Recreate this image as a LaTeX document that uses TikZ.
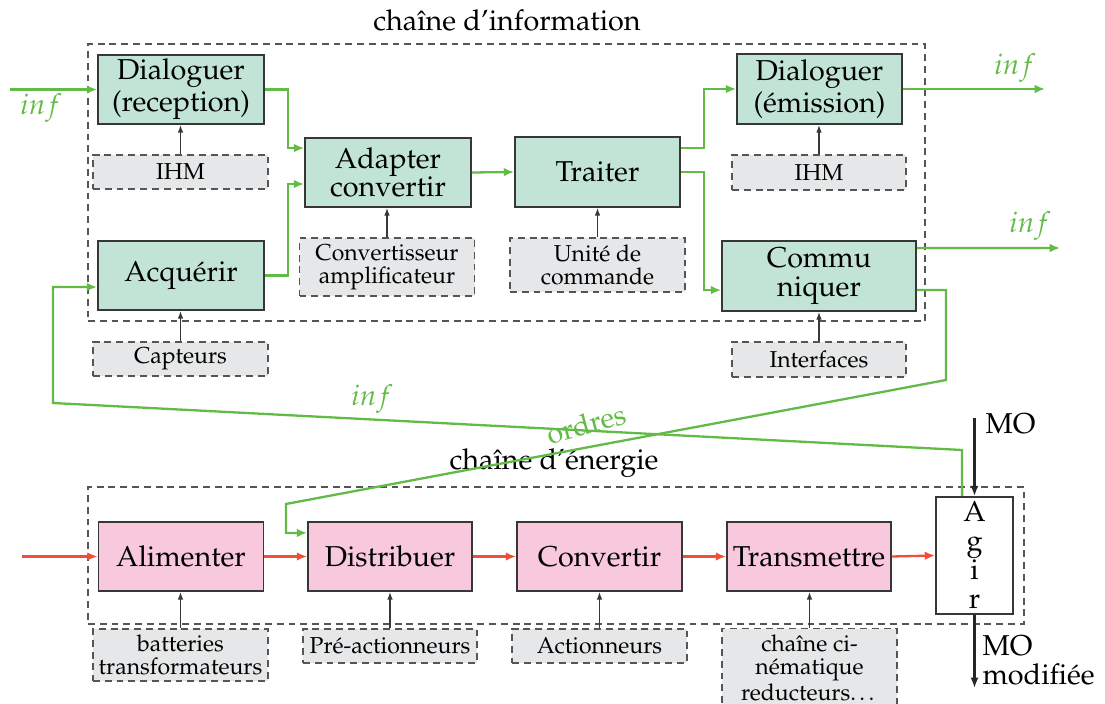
\documentclass[tikz,border=0pt]{standalone}
\usepackage[T1]{fontenc}
\usepackage{mathpazo}
\usetikzlibrary{arrows.meta,calc}
\definecolor{gfill}{RGB}{194,228,214}
\definecolor{pfill}{RGB}{248,200,220}
\definecolor{hfill}{RGB}{230,231,232}
\definecolor{gcol}{RGB}{98,187,70}
\definecolor{rcol}{RGB}{240,78,55}
\definecolor{bcol}{RGB}{55,55,55}
\definecolor{dcol}{RGB}{85,85,85}
\begin{document}
\begin{tikzpicture}[x=0.3476pt,y=-0.3476pt,
  sz/.style 2 args={minimum width=#1*0.3476pt,minimum height=#2*0.3476pt},
  fbox/.style={draw=bcol,line width=0.6pt,inner sep=1pt,align=center,font=\fontsize{10}{10}\selectfont},
  gbox/.style={fbox,fill=gfill},
  pbox/.style={fbox,fill=pfill},
  hbox/.style={draw=dcol,line width=0.5pt,dash pattern=on 2.4pt off 1.7pt,fill=hfill,inner sep=1pt,align=center,font=\fontsize{8}{8}\selectfont},
  cont/.style={draw=dcol,line width=0.5pt,dash pattern=on 2.4pt off 1.7pt,inner sep=0pt},
  gline/.style={draw=gcol,line width=0.8pt,-{Latex[length=3.6pt,width=3pt]}},
  rline/.style={draw=rcol,line width=0.8pt,-{Latex[length=3.6pt,width=3pt]}},
  karrow/.style={draw=bcol,line width=0.55pt,-{Latex[length=2.7pt,width=2pt]}},
  barrow/.style={draw=black!85,line width=0.7pt,-{Latex[length=3.6pt,width=2.8pt]}},
  glab/.style={text=gcol,font=\fontsize{10}{10}\selectfont,inner sep=0pt},
  tlab/.style={font=\fontsize{10}{10}\selectfont,inner sep=0pt}]
\useasboundingbox (0,0) rectangle (1105,704);

% containers and titles
\node[cont,sz={837}{277}] (info) at (506.5,182.5) {};
\node[cont,sz={936}{137}] (ener) at (556,555.5) {};
\node[tlab] (t1) at (507,20) {cha\^ine d'information};
\node[tlab] (t2) at (554,463) {cha\^ine d'\'energie};

% information chain
\node[gbox,sz={166}{69}] (dr) at (181,89.5) {Dialoguer\\(reception)};
\node[hbox,sz={175}{34}] (ihm1) at (180.5,172) {IHM};
\node[gbox,sz={166}{69}] (acq) at (181,275.5) {Acqu\'erir};
\node[hbox,sz={175}{34}] (capt) at (180.5,359) {Capteurs};
\node[gbox,sz={166}{69}] (adapt) at (388,172.5) {Adapter\\convertir};
\node[hbox,sz={175}{58}] (conv) at (387,267) {Convertisseur\\amplificateur};
\node[gbox,sz={165}{70}] (trait) at (597.5,172) {Traiter};
\node[hbox,sz={175}{54}] (unite) at (597.5,265) {Unit\'e de\\commande};
\node[gbox,sz={165}{70}] (de) at (819.5,89) {Dialoguer\\(\'emission)};
\node[hbox,sz={174}{35}] (ihm2) at (819,172.5) {IHM};
\node[gbox,sz={194}{70}] (comm) at (819,276) {Commu\\niquer};
\node[hbox,sz={174}{35}] (interf) at (819,359.5) {Interfaces};

% energy chain
\node[pbox,sz={165}{69}] (alim) at (181,556.5) {Alimenter};
\node[pbox,sz={164}{69}] (distr) at (390,556.5) {Distribuer};
\node[pbox,sz={165}{69}] (conve) at (599.5,556.5) {Convertir};
\node[pbox,sz={164}{69}] (trans) at (809,556.5) {Transmettre};
\node[fbox,fill=white,sz={77}{117}] (agir) at (974.5,555.5) {};
\node[tlab,align=center] (agirtxt) at (974.5,555) {A\\g\\i\\r};
\node[hbox,sz={175}{52}] (batt) at (180.5,655) {batteries\\transformateurs};
\node[hbox,sz={174}{34}] (preact) at (390,646) {Pr\'e-actionneurs};
\node[hbox,sz={175}{34}] (act) at (599.5,646) {Actionneurs};
\node[hbox,sz={175}{78},anchor=north] (cine) at (809.5,628) {cha\^ine ci-\\n\'ematique\\reducteurs\dots};

% support arrows
\foreach \s/\t in {ihm1/dr,capt/acq,conv/adapt,unite/trait,ihm2/de,interf/comm,batt/alim,preact/distr,act/conve,cine/trans}
  \draw[karrow] (\s.north) -- (\s.north |- \t.south);

% information flow
\coordinate (inA) at (10,89.5);
\coordinate (outA) at (1045,89);
\coordinate (outB) at (1060,248);
\draw[gline] (inA) -- (dr.west);
\draw[gline] (dr.east) -- ++(23,0) |- ([yshift=8.5pt]adapt.west);
\draw[gline] (acq.east) -- ++(23,0) |- ([yshift=-4pt]adapt.west);
\draw[gline] (adapt.east) -- (trait.west);
\draw[gline] ([yshift=8.3pt]trait.east) -- ++(23,0) |- (de.west);
\draw[gline] (trait.east) -- ++(23,0) |- ([yshift=-4.9pt]comm.west);
\draw[gline] (de.east) -- (outA);
\draw[gline] ([yshift=9.7pt]comm.east) -- (outB);
\node[glab] (l1) at (41,108) {$inf$};
\node[glab] (l2) at (1015,68) {$inf$};
\node[glab] (l3) at (1030,226) {$inf$};

% orders to distribuer
\coordinate (o1) at (946,380);
\coordinate (o2) at (286,504);
\draw[gline] ([yshift=-4.9pt]comm.east) -| (o1) -- (o2) |- ([yshift=8.2pt]distr.west);
\node[glab,rotate=15] (l4) at (586,424) {ordres};

% feedback information
\coordinate (f1) at (962,450);
\coordinate (f2) at (53,403);
\draw[gline] ([xshift=-4.3pt]agir.north) -- (f1) -- (f2) |- ([yshift=-4pt]acq.west);
\node[glab] (l5) at (372,399) {$inf$};

% energy flow
\coordinate (inE) at (22,556.5);
\draw[rline] (inE) -- (alim.west);
\draw[rline] (alim.east) -- (distr.west);
\draw[rline] (distr.east) -- (conve.west);
\draw[rline] (conve.east) -- (trans.west);
\draw[rline] (trans.east) -- (agir.west);

% matiere d'oeuvre
\coordinate (moin) at (974.5,418);
\coordinate (moout) at (974.5,688);
\draw[barrow] (moin) -- (agir.north);
\draw[barrow] (agir.south) -- (moout);
\node[tlab,anchor=west] (m1) at (985,424) {MO};
\node[tlab,anchor=west,align=left] (m2) at (982,660) {MO\\modifi\'ee};
\end{tikzpicture}
\end{document}
